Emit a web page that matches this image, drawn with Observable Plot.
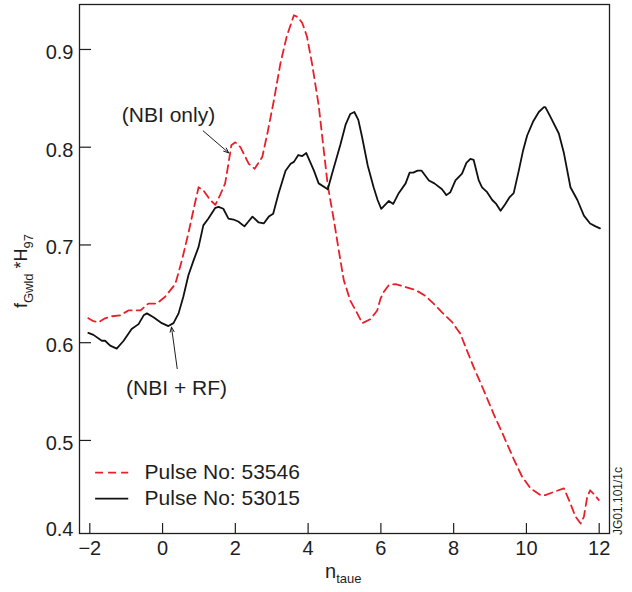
<!DOCTYPE html>
<html><head><meta charset="utf-8">
<script src="https://cdn.jsdelivr.net/npm/d3@7"></script>
<script src="https://cdn.jsdelivr.net/npm/@observablehq/plot@0.6"></script>
<style>
html,body{margin:0;padding:0;background:#fff;}
#chart{width:632px;height:592px;}
</style></head><body><div id="chart"></div>
<script>
// ---- data ----
const seriesNames = ["Pulse No: 53546", "Pulse No: 53015"];

const pulse53015X = [-2.04,-1.90,-1.67,-1.58,-1.44,-1.26,-1.07,-0.85,-0.66,-0.52,-0.43,-0.25,-0.02,0.16,0.30,0.44,0.57,0.71,0.85,0.99,1.12,1.26,1.45,1.54,1.67,1.81,1.95,2.08,2.25,2.36,2.47,2.64,2.78,2.92,3.04,3.19,3.38,3.52,3.61,3.73,3.84,3.95,4.16,4.29,4.54,4.66,4.89,5.03,5.16,5.27,5.38,5.48,5.64,5.80,5.91,6.01,6.22,6.34,6.49,6.68,6.79,6.89,7.01,7.12,7.32,7.47,7.68,7.80,7.91,8.05,8.23,8.35,8.46,8.55,8.69,8.78,8.92,9.06,9.17,9.29,9.42,9.54,9.65,9.79,9.91,10.02,10.18,10.34,10.48,10.52,10.66,10.89,11.03,11.21,11.40,11.58,11.75,11.90,12.02];
const pulse53015Y = [0.610,0.608,0.602,0.602,0.597,0.594,0.602,0.614,0.619,0.628,0.630,0.626,0.620,0.617,0.620,0.630,0.647,0.669,0.684,0.698,0.720,0.727,0.738,0.739,0.737,0.727,0.726,0.724,0.719,0.724,0.729,0.723,0.722,0.729,0.732,0.753,0.776,0.783,0.785,0.792,0.791,0.794,0.776,0.763,0.757,0.773,0.803,0.823,0.834,0.836,0.828,0.811,0.781,0.759,0.746,0.737,0.745,0.742,0.753,0.763,0.774,0.774,0.776,0.776,0.766,0.763,0.757,0.751,0.754,0.766,0.773,0.784,0.788,0.787,0.766,0.759,0.754,0.746,0.742,0.735,0.742,0.749,0.753,0.776,0.797,0.812,0.826,0.836,0.841,0.841,0.831,0.814,0.794,0.759,0.746,0.730,0.722,0.719,0.717];

const pulse53546X = [-2.04,-1.90,-1.76,-1.58,-1.40,-1.16,-0.94,-0.61,-0.39,-0.16,0.07,0.35,0.53,0.71,0.85,0.99,1.12,1.31,1.45,1.58,1.72,1.81,1.89,2.00,2.14,2.37,2.53,2.74,2.88,3.06,3.24,3.41,3.50,3.61,3.72,3.84,3.97,4.11,4.29,4.43,4.54,4.71,4.84,4.98,5.16,5.35,5.49,5.71,5.90,5.99,6.08,6.22,6.40,6.68,6.95,7.22,7.45,7.68,7.96,8.09,8.19,8.28,8.55,8.83,9.10,9.38,9.65,9.88,10.11,10.39,10.52,10.80,11.03,11.17,11.35,11.49,11.58,11.67,11.75,11.86,11.99];
const pulse53546Y = [0.625,0.622,0.621,0.625,0.627,0.628,0.633,0.633,0.640,0.640,0.647,0.660,0.684,0.712,0.736,0.759,0.756,0.746,0.741,0.751,0.763,0.783,0.802,0.805,0.800,0.783,0.778,0.790,0.814,0.848,0.886,0.913,0.923,0.935,0.933,0.927,0.913,0.885,0.843,0.797,0.761,0.725,0.695,0.664,0.643,0.630,0.620,0.624,0.633,0.645,0.652,0.659,0.660,0.657,0.654,0.648,0.640,0.631,0.621,0.614,0.609,0.600,0.575,0.551,0.527,0.504,0.481,0.463,0.451,0.444,0.444,0.448,0.451,0.439,0.422,0.415,0.422,0.442,0.449,0.445,0.439];

const xTicks = [-2, 0, 2, 4, 6, 8, 10, 12];
const yTicks = [0.5, 0.6, 0.7, 0.8, 0.9];
const yBottomTick = [0.4];

const annotationText = ["(NBI only)", "(NBI + RF)"];
const annotationX = [0.163, 0.383];
const annotationY = [0.833, 0.553];
const arrowX1 = [1.116, 0.402];
const arrowY1 = [0.8167, 0.5735];
const arrowX2 = [1.818, 0.245];
const arrowY2 = [0.7942, 0.616];

// ---- layout (separate from data) ----
const layout = {
  legendX1: -1.84, legendX2: -0.93, legendTextX: -0.494,
  legendY: [0.467, 0.4404]
};

const FONT = "'Liberation Sans', Arial, Helvetica, sans-serif";
const RED = "#e8202a";
const INK = "#1e1e1e";

const black = pulse53015X.map((x, i) => ({x, y: pulse53015Y[i]}));
const red = pulse53546X.map((x, i) => ({x, y: pulse53546Y[i]}));
const notes = annotationText.map((t, i) => ({t, x: annotationX[i], y: annotationY[i]}));
const arrows = arrowX1.map((x1, i) => ({x1, y1: arrowY1[i], x2: arrowX2[i], y2: arrowY2[i]}));
const legend = seriesNames.map((name, i) => ({name, y: layout.legendY[i]}));
const fmtX = d => d < 0 ? "\u2212" + Math.abs(d) : String(d);
const fmtY = d => d.toFixed(1);

const svg = Plot.plot({
  width: 632, height: 592,
  marginLeft: 79, marginRight: 23, marginTop: 4, marginBottom: 59,
  style: {fontFamily: FONT, fontSize: "20px", color: INK, background: "white", overflow: "visible"},
  x: {domain: [-2.283, 12.283]},
  y: {domain: [0.4048, 0.946], clamp: true},
  marks: [
    Plot.axisX(xTicks, {tickSize: 10, dy: -10, tickFormat: () => "", label: null, stroke: INK, strokeWidth: 1.2}),
    Plot.axisX(xTicks, {tickSize: 0, tickPadding: 7, tickFormat: fmtX, label: null, fontSize: 20, fill: INK}),
    Plot.axisY(yTicks, {tickSize: 12, dx: 12, tickFormat: () => "", label: null, stroke: INK, strokeWidth: 1.2}),
    Plot.axisY(yTicks, {tickSize: 0, tickPadding: 6, dy: 3, tickFormat: fmtY, label: null, fontSize: 20, fill: INK}),
    Plot.axisY(yBottomTick, {tickSize: 0, tickPadding: 6, dy: -4, tickFormat: fmtY, label: null, fontSize: 20, fill: INK}),
    Plot.line(red, {x: "x", y: "y", stroke: RED, strokeWidth: 1.8, strokeDasharray: "8,5"}),
    Plot.line(black, {x: "x", y: "y", stroke: "#111", strokeWidth: 1.8}),
    Plot.arrow(arrows, {x1: "x1", y1: "y1", x2: "x2", y2: "y2", stroke: INK, strokeWidth: 1, headLength: 8, headAngle: 45}),
    Plot.text(notes, {x: "x", y: "y", text: "t", fontSize: 21, fill: INK}),
    Plot.ruleY(legend.slice(0, 1), {y: "y", x1: layout.legendX1, x2: layout.legendX2, stroke: RED, strokeWidth: 1.8, strokeDasharray: "8,5"}),
    Plot.ruleY(legend.slice(1, 2), {y: "y", x1: layout.legendX1, x2: layout.legendX2, stroke: "#111", strokeWidth: 1.8}),
    Plot.text(legend, {x: layout.legendTextX, y: "y", text: "name", textAnchor: "start", fontSize: 21, fill: INK}),
    Plot.frame({stroke: INK, strokeWidth: 1.3})
  ]
});
document.getElementById("chart").appendChild(svg);

// axis titles with subscripts
const s = d3.select(svg);
const yl = s.append("text")
  .attr("transform", "translate(26.5,271) rotate(-90)")
  .attr("text-anchor", "middle")
  .attr("fill", INK)
  .style("font-family", FONT).style("font-size", "18px");
yl.append("tspan").text("f");
yl.append("tspan").attr("dy", 6.5).style("font-size", "13px").text("Gwld");
yl.append("tspan").attr("dy", -6.5).text(" *H");
yl.append("tspan").attr("dy", 6.5).style("font-size", "13px").text("97");

const xl = s.append("text")
  .attr("x", 325).attr("y", 578)
  .attr("text-anchor", "start")
  .attr("fill", INK)
  .style("font-family", FONT).style("font-size", "20px");
xl.append("tspan").text("n");
xl.append("tspan").attr("dy", 5).style("font-size", "13px").text("taue");

s.append("text")
  .attr("transform", "translate(621.5,535) rotate(-90)")
  .attr("text-anchor", "start")
  .attr("fill", INK)
  .style("font-family", FONT).style("font-size", "12px")
  .text("JG01.101/1c");
</script></body></html>
